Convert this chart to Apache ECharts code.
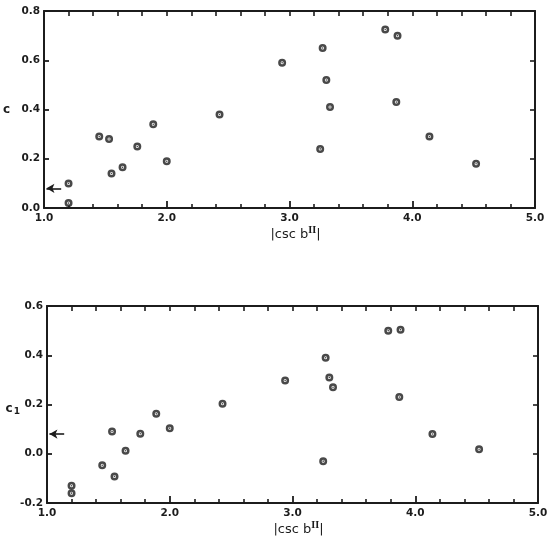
<!DOCTYPE html>
<html>
<head>
<meta charset="utf-8">
<script src="https://cdn.jsdelivr.net/npm/echarts@6/dist/echarts.min.js"></script>
<style>
html,body{margin:0;padding:0;background:#fff;}
#chart{width:560px;height:554px;}
</style>
</head>
<body>
<div id="chart"></div>
<script>
// |csc b^II| values (shared by both panels)
const cscB = [1.20, 1.20, 1.45, 1.53, 1.55, 1.64, 1.76, 1.89, 2.00, 2.43, 2.94, 3.27, 3.30, 3.33, 3.25, 3.78, 3.88, 3.87, 4.14, 4.52];
// upper panel: c
const cValues = [0.10, 0.02, 0.29, 0.28, 0.14, 0.165, 0.25, 0.34, 0.19, 0.38, 0.59, 0.65, 0.52, 0.41, 0.24, 0.725, 0.70, 0.43, 0.29, 0.18];
// lower panel: c1
const c1Values = [-0.13, -0.16, -0.047, 0.09, -0.092, 0.012, 0.081, 0.162, 0.104, 0.203, 0.297, 0.39, 0.31, 0.27, -0.03, 0.50, 0.504, 0.23, 0.08, 0.018];
// arrows marking a reference level on each panel
const arrowX = [1.14, 1.02];
const arrowC = 0.08;
const arrowC1 = 0.08;
// axis ranges / ticks
const xRange = [1, 5];
const cRange = [0, 0.8];
const c1Range = [-0.2, 0.6];

const ink = '#1c1c1c';
const labelFont = {color: ink, fontFamily: 'DejaVu Sans', fontWeight: 'bold', fontSize: 10.5};

function pairs(xs, ys) { return xs.map((x, i) => [x, ys[i]]); }

function xAxes(gridIndex) {
  return [
    { gridIndex, type: 'value', position: 'bottom', min: xRange[0], max: xRange[1], interval: 1,
      axisLine: {show: true, onZero: false, lineStyle: {color: ink, width: 2}},
      axisTick: {show: true, inside: true, length: 7, lineStyle: {color: ink, width: 1.8}},
      minorTick: {show: true, splitNumber: 5, length: 4, lineStyle: {color: ink, width: 1.6}},
      splitLine: {show: false},
      axisLabel: Object.assign({margin: 5, formatter: v => v.toFixed(1)}, labelFont),
      name: '{n||csc b}{s|II}{n||}', nameLocation: 'middle', nameGap: 18,
      nameTextStyle: {padding: [0, 0, 0, 12], rich: {
        n: {fontFamily: 'DejaVu Sans', fontSize: 13, color: ink, lineHeight: 18, verticalAlign: 'middle'},
        s: {fontFamily: 'DejaVu Serif', fontSize: 8.5, color: ink, fontWeight: 'bold', lineHeight: 9, verticalAlign: 'top'}
      }}
    },
    { gridIndex, type: 'value', position: 'top', min: xRange[0], max: xRange[1], interval: 1,
      axisLine: {show: true, onZero: false, lineStyle: {color: ink, width: 2}},
      axisTick: {show: true, inside: true, length: 5, lineStyle: {color: ink, width: 1.6}},
      minorTick: {show: true, splitNumber: 5, length: 5, lineStyle: {color: ink, width: 1.6}},
      splitLine: {show: false}, axisLabel: {show: false}
    }
  ];
}

function yAxes(gridIndex, range, nameRich, nameGap, namePad) {
  return [
    { gridIndex, type: 'value', position: 'left', min: range[0], max: range[1], interval: 0.2,
      axisLine: {show: true, onZero: false, lineStyle: {color: ink, width: 2}},
      axisTick: {show: true, inside: true, length: 5, lineStyle: {color: ink, width: 1.8}},
      splitLine: {show: false},
      axisLabel: Object.assign({margin: 4, formatter: v => v.toFixed(1)}, labelFont),
      name: nameRich, nameLocation: 'middle', nameRotate: 0, nameGap: nameGap, nameMoveOverlap: false,
      nameTextStyle: {padding: namePad, rich: {
        n: {fontFamily: 'DejaVu Sans', fontWeight: 'bold', fontSize: 12, color: ink, lineHeight: 16, verticalAlign: 'middle'},
        b: {fontFamily: 'DejaVu Sans', fontWeight: 'bold', fontSize: 9, color: ink, lineHeight: 16, verticalAlign: 'bottom', padding: [6, 0, 0, 1]}
      }}
    },
    { gridIndex, type: 'value', position: 'right', min: range[0], max: range[1], interval: 0.2,
      axisLine: {show: true, onZero: false, lineStyle: {color: ink, width: 2}},
      axisTick: {show: true, inside: true, length: 5, lineStyle: {color: ink, width: 1.6}},
      splitLine: {show: false}, axisLabel: {show: false}
    }
  ];
}

function panelSeries(xAxisIndex, yAxisIndex, ys, arrowY) {
  const data = pairs(cscB, ys);
  return [
    { type: 'scatter', xAxisIndex, yAxisIndex, data, symbol: 'circle', symbolSize: 5.5,
      itemStyle: {color: '#fff', borderColor: ink, borderWidth: 2.5}, silent: true,
      markLine: { silent: true, symbol: ['none', 'arrow'], symbolSize: [7, 8],
        label: {show: false}, lineStyle: {color: ink, width: 1.6, type: 'solid'},
        data: [[{coord: [arrowX[0], arrowY]}, {coord: [arrowX[1], arrowY]}]] }
    },
    { type: 'scatter', xAxisIndex, yAxisIndex, data, symbol: 'circle', symbolSize: 1.6,
      itemStyle: {color: ink}, silent: true }
  ];
}

const chart = echarts.init(document.getElementById('chart'), null, {renderer: 'canvas'});
chart.setOption({
  backgroundColor: '#fff',
  animation: false,
  grid: [
    {left: 44, top: 11, width: 491, height: 197, outerBoundsMode: 'none', containLabel: false},
    {left: 47, top: 306, width: 491, height: 197, outerBoundsMode: 'none', containLabel: false}
  ],
  xAxis: [...xAxes(0), ...xAxes(1)],
  yAxis: [
    ...yAxes(0, cRange, '{n|c}', 34, [0, 0, 0, 0]),
    ...yAxes(1, c1Range, '{n|c}{b|1}', 27, [8, 0, 0, 0])
  ],
  series: [
    ...panelSeries(0, 0, cValues, arrowC),
    ...panelSeries(2, 2, c1Values, arrowC1)
  ]
});
</script>
</body>
</html>
